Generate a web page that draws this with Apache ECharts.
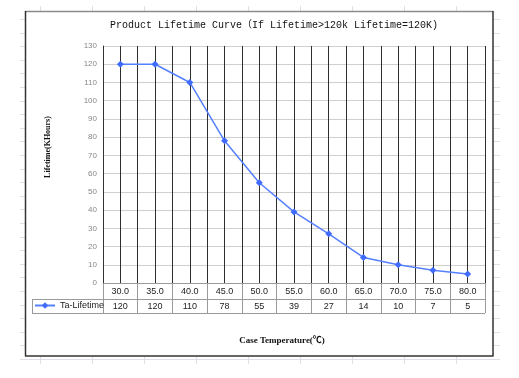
<!DOCTYPE html>
<html><head><meta charset="utf-8">
<script src="https://cdn.jsdelivr.net/npm/echarts@6/dist/echarts.min.js"></script>
<style>html,body{margin:0;padding:0;background:#fff}#c{width:519px;height:378px}</style>
</head><body><div id="c"></div>
<script>
const categories = ['30.0','35.0','40.0','45.0','50.0','55.0','60.0','65.0','70.0','75.0','80.0'];
const lifetime = [120,120,110,78,55,39,27,14,10,7,5];
const seriesName = 'Ta-Lifetime';
const yTicks = {min:0, max:130, interval:10};
const titleText = 'Product Lifetime Curve（If Lifetime>120k Lifetime=120K)';
const yTitle = 'Lifetime(KHours)';
const xTitle = 'Case Temperature(℃)';

const chart = echarts.init(document.getElementById('c'), null, {renderer:'canvas'});
const G = {l:103, r:485, t:46, b:283};
const deco = [];
const faint = '#dcdfe8';
for (let y = 19; y < 356; y += 13.6) {
  deco.push({type:'line', shape:{x1:20,y1:Math.round(y)+0.5,x2:25,y2:Math.round(y)+0.5}, style:{stroke:faint,lineWidth:1}, z:-1});
  deco.push({type:'line', shape:{x1:493,y1:Math.round(y)+0.5,x2:500,y2:Math.round(y)+0.5}, style:{stroke:faint,lineWidth:1}, z:-1});
}
for (let x = 40; x < 500; x += 52) {
  deco.push({type:'line', shape:{x1:x+0.5,y1:6,x2:x+0.5,y2:11}, style:{stroke:faint,lineWidth:1}, z:-1});
  deco.push({type:'line', shape:{x1:x+0.5,y1:356,x2:x+0.5,y2:364}, style:{stroke:faint,lineWidth:1}, z:-1});
}
deco.push({type:'line', shape:{x1:20,y1:359.5,x2:500,y2:359.5}, style:{stroke:faint,lineWidth:1}, z:-1});

const tableLines = [
  {type:'line', shape:{x1:32,y1:299.5,x2:G.r,y2:299.5}, style:{stroke:'#9a9a9a',lineWidth:1}},
  {type:'line', shape:{x1:32,y1:313.5,x2:G.r,y2:313.5}, style:{stroke:'#9a9a9a',lineWidth:1}},
  {type:'line', shape:{x1:32.5,y1:299.5,x2:32.5,y2:313.5}, style:{stroke:'#9a9a9a',lineWidth:1}}
];
const frame = [
  {type:'line', shape:{x1:25,y1:11.5,x2:493,y2:11.5}, style:{stroke:'#8a8a8a',lineWidth:1.5}},
  {type:'line', shape:{x1:25.5,y1:11,x2:25.5,y2:356}, style:{stroke:'#333',lineWidth:1.5}},
  {type:'line', shape:{x1:493,y1:11,x2:493,y2:356}, style:{stroke:'#333',lineWidth:1.5}},
  {type:'line', shape:{x1:25,y1:356,x2:493.5,y2:356}, style:{stroke:'#333',lineWidth:1.5}}
];
const texts = [
  {type:'text', x:274, y:20, style:{text:titleText, font:'10px "Liberation Mono", "Noto Sans CJK SC", monospace', fill:'#111', textAlign:'center'}},
  {type:'text', rotation:Math.PI/2, x:48, y:147, style:{text:yTitle, font:'bold 8px "Liberation Serif", serif', fill:'#111', textAlign:'center', textVerticalAlign:'middle'}},
  {type:'text', x:282, y:336, style:{text:xTitle, font:'bold 9px "Liberation Serif", "Noto Sans CJK SC", serif', fill:'#111', textAlign:'center'}}
];

chart.setOption({
  animation:false,
  backgroundColor:'#fff',
  grid:{left:G.l, right:519-G.r, top:G.t, bottom:378-G.b},
  legend:{left:34, top:301, itemWidth:20, itemHeight:8, itemGap:4, padding:0,
    textStyle:{fontSize:9, color:'#222', fontFamily:'"Liberation Sans", sans-serif'}, data:[seriesName]},
  xAxis:[
    {type:'category', data:categories, boundaryGap:true, position:'bottom',
      axisLine:{show:true, lineStyle:{color:'#9a9a9a', width:1}},
      axisTick:{show:true, length:30, lineStyle:{color:'#9a9a9a'}},
      axisLabel:{margin:4, fontSize:9, color:'#222', fontFamily:'"Liberation Sans", sans-serif'},
      splitLine:{show:false}},
    {type:'category', data:lifetime.map(String), boundaryGap:true, position:'bottom',
      axisLine:{show:false}, axisTick:{show:false},
      axisLabel:{margin:19, fontSize:9, color:'#222', fontFamily:'"Liberation Sans", sans-serif'},
      splitLine:{show:false}},
    {type:'value', min:0, max:categories.length*2, interval:1, position:'top',
      axisLine:{show:false}, axisTick:{show:false}, axisLabel:{show:false},
      splitLine:{show:true, lineStyle:{color:'#2e2e2e', width:1}}}
  ],
  yAxis:{type:'value', min:yTicks.min, max:yTicks.max, interval:yTicks.interval,
    axisLine:{show:true, lineStyle:{color:'#333', width:1}},
    axisTick:{show:false},
    axisLabel:{margin:6, fontSize:8, color:'#888', fontFamily:'"Liberation Sans", sans-serif'},
    splitLine:{show:true, lineStyle:{color:'#cfcfcf', width:1}}},
  series:[{name:seriesName, type:'line', data:lifetime, xAxisIndex:0,
    symbol:'diamond', symbolSize:7, showSymbol:true,
    itemStyle:{color:'#3f6cff'}, lineStyle:{color:'#5580ff', width:1.5}, z:5}],
  graphic:[...deco, ...tableLines, ...frame, ...texts]
});
</script></body></html>
